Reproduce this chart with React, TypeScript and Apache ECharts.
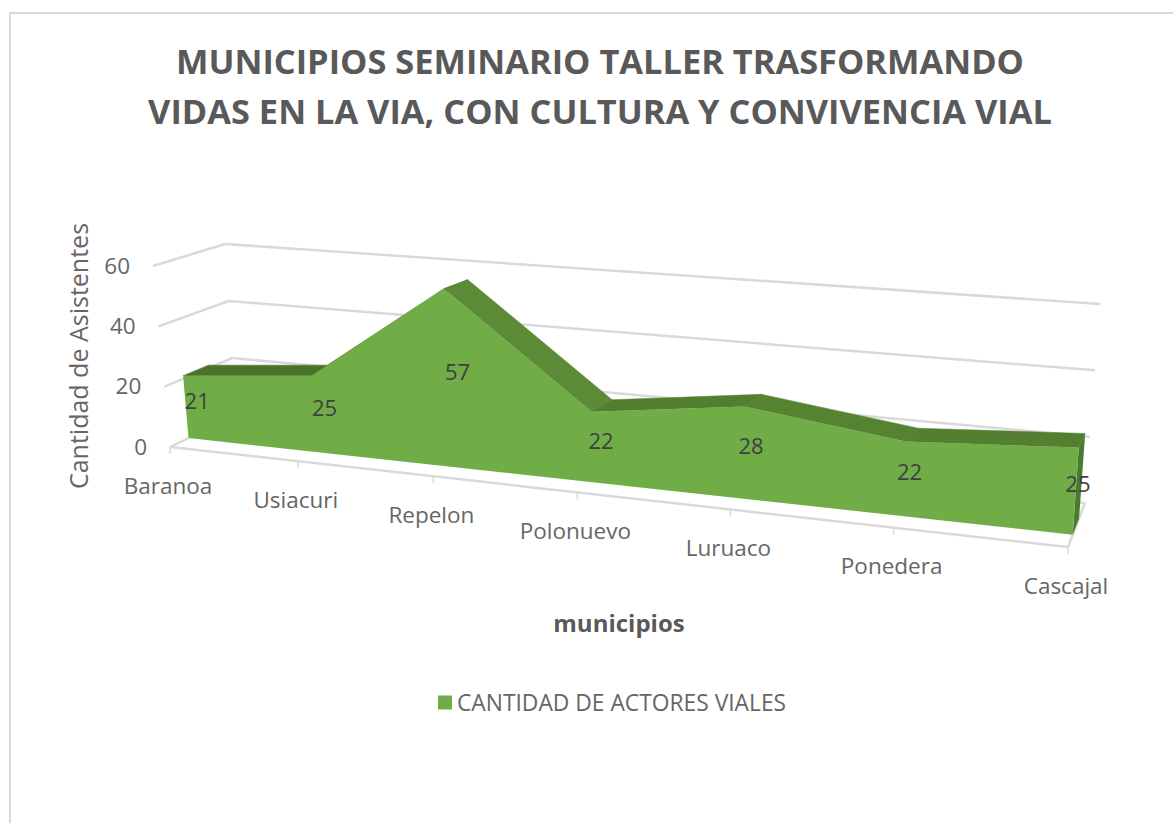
import React, { useEffect, useRef } from "react";
import * as echarts from "echarts";

const categories = ["Baranoa", "Usiacuri", "Repelon", "Polonuevo", "Luruaco", "Ponedera", "Cascajal"];
const values = [21, 25, 57, 22, 28, 22, 25];
const yTicks = [0, 20, 40, 60];
const seriesName = "CANTIDAD DE ACTORES VIALES";
const titleText = "MUNICIPIOS SEMINARIO TALLER TRASFORMANDO\nVIDAS EN LA VIA, CON CULTURA Y CONVIVENCIA VIAL";

const FONT = "'Open Sans', sans-serif";
const GRID = { left: 170, top: 165, width: 898, height: 382 };
const RATIO_NEAR = 0.83;
const RATIO_FAR = 0.87;
const Z_FRONT = 0.28;
const Z_BACK = 0.65;
const Z_LABEL = 0.465;
// Picture-plane corners of the 3D box: n = near wall, f = far wall; L/R = first/last category; 0/1 = axis min/max
const BOX = {
  nL0: [170, 447], nR0: [1068, 547], nL1: [153, 266], nR1: [1082, 334],
  fL0: [236, 415], fR0: [1085, 503], fL1: [225, 244], fR1: [1100, 304],
};
const TOP_FACE = ["#4B7229", "#4B7229", "#5C8B37", "#527E2F", "#568332", "#547F30"];
const SIDE_FACE = "#4A7A2C";
const FRONT_FACE = "#70AD47";
const GRIDLINE = "#D9D9D9";
const TITLE_COLOR = "#595959";
const TICK_COLOR = "#666666";

const lerp = (a: number[], b: number[], t: number) => [a[0] + (b[0] - a[0]) * t, a[1] + (b[1] - a[1]) * t];

// Takes a pixel from the hidden cartesian axes and projects it into the perspective box.
function project(p: number[], z: number) {
  const t = (p[0] - GRID.left) / GRID.width;
  const s = (GRID.top + GRID.height - p[1]) / GRID.height;
  const warp = (k: number) => (t * k) / (1 - t + t * k);
  const tn = warp(RATIO_NEAR);
  const tf = warp(RATIO_FAR);
  const near = lerp(lerp(BOX.nL0, BOX.nR0, tn), lerp(BOX.nL1, BOX.nR1, tn), s);
  const far = lerp(lerp(BOX.fL0, BOX.fR0, tf), lerp(BOX.fL1, BOX.fR1, tf), s);
  return lerp(near, far, z);
}

const lineEl = (a: number[], b: number[], width = 2.5) => ({
  type: "line",
  shape: { x1: a[0], y1: a[1], x2: b[0], y2: b[1] },
  style: { stroke: GRIDLINE, lineWidth: width },
});

const textEl = (text: string, x: number, y: number, align: string, fill: string, fontSize: number) => ({
  type: "text",
  style: { text, x, y, align, verticalAlign: "middle", fill, fontFamily: FONT, fontSize },
});

const last = categories.length - 1;

function renderWall(_: any, api: any) {
  const v = api.value(0);
  const nl = project(api.coord([0, v]), 0);
  const fl = project(api.coord([0, v]), 1);
  const fr = project(api.coord([last, v]), 1);
  const children: any[] = [lineEl(nl, fl), lineEl(fl, fr), textEl(String(v), nl[0] - 23, nl[1] - 1, "right", TICK_COLOR, 22.5)];
  if (v === 0) {
    const nr = project(api.coord([last, v]), 0);
    children.push(lineEl(nl, nr), lineEl(nr, fr));
  }
  return { type: "group", children };
}

function renderCategory(params: any, api: any) {
  const i = params.dataIndex;
  const p = project(api.coord([i, 0]), 0);
  return {
    type: "group",
    children: [
      lineEl(p, [p[0], p[1] + 7], 1.5),
      textEl(categories[i], p[0] - 2, p[1] + 38, "center", TICK_COLOR, 22.5),
    ],
  };
}

function renderTopFace(params: any, api: any) {
  const i = params.dataIndex;
  if (i === last) {
    const c = api.coord([i, values[i]]);
    const b = api.coord([i, 0]);
    return {
      type: "polygon",
      shape: { points: [project(c, Z_FRONT), project(c, Z_BACK), project(b, Z_BACK), project(b, Z_FRONT)] },
      style: { fill: SIDE_FACE },
    };
  }
  const a = api.coord([i, values[i]]);
  const b = api.coord([i + 1, values[i + 1]]);
  return {
    type: "polygon",
    shape: { points: [project(a, Z_FRONT), project(a, Z_BACK), project(b, Z_BACK), project(b, Z_FRONT)] },
    style: { fill: TOP_FACE[i], stroke: TOP_FACE[i], lineWidth: 0.5 },
  };
}

function renderFront(params: any, api: any) {
  const i = params.dataIndex;
  const children: any[] = [];
  if (i === 0) {
    const points = values.map((v, k) => project(api.coord([k, v]), Z_FRONT));
    points.push(project(api.coord([last, 0]), Z_FRONT), project(api.coord([0, 0]), Z_FRONT));
    children.push({ type: "polygon", shape: { points }, style: { fill: FRONT_FACE } });
  }
  return { type: "group", children };
}

function renderLabels(params: any, api: any) {
  const i = params.dataIndex;
  const v = api.value(1);
  const p = project(api.coord([i, v / 2]), Z_LABEL);
  return textEl(String(v), p[0] - 1, p[1] - 1, "center", "#404040", 22);
}

export default function App() {
  const ref = useRef<HTMLDivElement>(null);
  useEffect(() => {
    document.body.style.margin = "0";
    document.body.style.overflow = "hidden";
    const chart = echarts.init(ref.current!, undefined, { renderer: "svg" });
    const points = values.map((v, i) => [i, v]);
    const noClip = { type: "custom", coordinateSystem: "cartesian2d", clip: false, silent: true };
    chart.setOption({
      animation: false,
      backgroundColor: "#FFFFFF",
      title: {
        text: titleText,
        left: 595,
        top: 30,
        textAlign: "center",
        textStyle: { fontFamily: FONT, fontWeight: "bold", fontSize: 34.4, lineHeight: 50, color: TITLE_COLOR },
      },
      legend: {
        data: [seriesName],
        left: 433,
        top: 686,
        itemWidth: 14,
        itemHeight: 14,
        icon: "rect",
        textStyle: { fontFamily: FONT, fontSize: 22.8, color: TICK_COLOR },
      },
      grid: { ...GRID, containLabel: false },
      xAxis: {
        type: "category",
        data: categories,
        boundaryGap: false,
        name: "municipios",
        nameLocation: "middle",
        nameGap: 63,
        nameTextStyle: { fontFamily: FONT, fontWeight: "bold", fontSize: 24, color: TITLE_COLOR },
        axisLine: { show: false },
        axisTick: { show: false },
        axisLabel: { show: false },
        splitLine: { show: false },
      },
      yAxis: {
        type: "value",
        min: 0,
        max: 60,
        interval: 20,
        name: "Cantidad de Asistentes",
        nameLocation: "middle",
        nameGap: 80,
        nameTextStyle: { fontFamily: FONT, fontSize: 25, color: TICK_COLOR },
        axisLine: { show: false },
        axisTick: { show: false },
        axisLabel: { show: false },
        splitLine: { show: false },
      },
      graphic: [
        {
          type: "polyline",
          shape: { points: [[10, 823], [10, 13], [1173, 13]] },
          style: { stroke: "#D9D9D9", lineWidth: 2, fill: "none" },
        },
      ],
      series: [
        { ...noClip, name: "walls", data: yTicks.map((v) => [v]), encode: { y: 0 }, renderItem: renderWall },
        { ...noClip, name: "categories", data: points, renderItem: renderCategory },
        { ...noClip, name: "faces", data: points, renderItem: renderTopFace },
        { ...noClip, name: seriesName, data: points, itemStyle: { color: FRONT_FACE }, renderItem: renderFront },
        { ...noClip, name: "labels", data: points, renderItem: renderLabels },
      ],
    });
    return () => chart.dispose();
  }, []);
  return <div ref={ref} style={{ width: 1173, height: 823 }} />;
}
